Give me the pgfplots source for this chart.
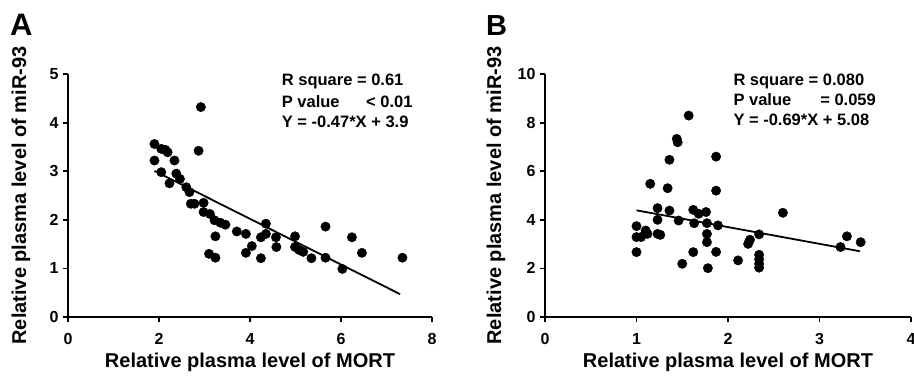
\documentclass[border=0pt]{standalone}
\usepackage{pgfplots}
\pgfplotsset{compat=1.18}
\usepackage{fontspec}
\setmainfont{Liberation Sans}
\begin{document}
\begin{tikzpicture}
\pgfplotsset{
  myax/.style={
    scale only axis, axis lines*=left, axis line style={line width=2pt, -},
    tick align=outside, major tick length=5pt, tick style={line width=1.8pt, black},
    /pgf/number format/assume math mode=true,
    ticklabel style={font=\fontsize{16}{18}\selectfont\bfseries},
    xticklabel style={yshift=-8pt},
    yticklabel style={xshift=-1pt},
    clip=false, height=243pt, anchor=south west,
  },
  dots/.style={only marks, mark=*, mark size=4.7pt, black, mark options={fill=black, draw=black}},
  fit/.style={no marks, black, line width=1.8pt},
}
% Panel A
\begin{axis}[myax, at={(68pt,59pt)}, width=364pt,
  xmin=0, xmax=8, ymin=0, ymax=5, xtick={0,2,...,8}, ytick={0,...,5},
  xlabel={Relative plasma level of MORT},
  ylabel={Relative plasma level of miR-93},
  every axis x label/.style={at={(axis description cs:0.5,-0.206)}, anchor=base, font=\fontsize{20}{24}\selectfont\bfseries},
  every axis y label/.style={at={(axis description cs:-0.129,0.5)}, rotate=90, anchor=center, font=\fontsize{20}{24}\selectfont\bfseries},
]
\addplot[dots] coordinates {
(1.90,3.56) (2.05,3.46) (2.14,3.44) (2.19,3.39) (1.90,3.22) (2.05,2.98)
(2.34,3.22) (2.23,2.75) (2.38,2.95) (2.46,2.84) (2.60,2.67) (2.67,2.57)
(2.70,2.33) (2.78,2.33) (2.92,4.32) (2.87,3.42) (2.98,2.35) (2.98,2.16)
(3.12,2.12) (3.22,1.99) (3.35,1.94) (3.46,1.90) (3.24,1.66) (3.10,1.30)
(3.24,1.22) (3.71,1.76) (3.91,1.71) (4.04,1.46) (3.91,1.32) (4.35,1.92)
(4.24,1.64) (4.35,1.71) (4.57,1.64) (4.58,1.44) (4.24,1.21) (4.99,1.66)
(4.99,1.44) (5.08,1.38) (5.17,1.34) (5.35,1.21) (5.66,1.86) (5.66,1.22)
(6.03,0.99) (6.24,1.64) (6.46,1.32) (7.35,1.22)
};
\addplot[fit] coordinates {(1.9,3.007) (7.3,0.469)};
\end{axis}
% Panel B
\begin{axis}[myax, at={(545pt,59pt)}, width=366pt,
  xmin=0, xmax=4, ymin=0, ymax=10, xtick={0,...,4}, ytick={0,2,...,10},
  xlabel={Relative plasma level of MORT},
  ylabel={Relative plasma level of miR-93},
  every axis x label/.style={at={(axis description cs:0.5,-0.206)}, anchor=base, font=\fontsize{20}{24}\selectfont\bfseries},
  every axis y label/.style={at={(axis description cs:-0.134,0.5)}, rotate=90, anchor=center, font=\fontsize{20}{24}\selectfont\bfseries},
]
\addplot[dots] coordinates {
(1.00,3.74) (1.00,3.29) (1.00,2.67) (1.05,3.29) (1.10,3.56) (1.12,3.42)
(1.15,5.48) (1.23,4.48) (1.23,4.00) (1.23,3.42) (1.26,3.38) (1.34,5.30)
(1.36,6.47) (1.36,4.38) (1.44,7.33) (1.45,7.19) (1.46,3.97) (1.50,2.19)
(1.57,8.29) (1.62,4.41) (1.63,3.86) (1.62,2.67) (1.68,4.25) (1.76,4.32)
(1.77,3.86) (1.77,3.42) (1.77,3.08) (1.78,2.01) (1.87,6.60) (1.87,5.20)
(1.89,3.77) (1.87,2.68) (2.11,2.33) (2.22,3.01) (2.24,3.18) (2.34,3.40)
(2.34,2.56) (2.34,2.37) (2.34,2.19) (2.34,2.03) (2.60,4.29) (3.23,2.88)
(3.30,3.32) (3.45,3.08)
};
\addplot[fit] coordinates {(1.0,4.39) (3.44,2.707)};
\end{axis}
% panel letters
\node[anchor=base west, inner sep=0, font=\fontsize{31}{34}\selectfont\bfseries] at (10pt,341pt) {A};
\node[anchor=base west, inner sep=0, font=\fontsize{29}{34}\selectfont\bfseries] at (486pt,341pt) {B};
% statistics
\begin{scope}[every node/.style={anchor=base west, inner sep=0, font=\fontsize{16.5}{20}\selectfont\bfseries}]
\node at (281.7pt,290.7pt) {R square = 0.61};
\node at (281.7pt,269.0pt) {P value};
\node[anchor=base east] at (412.7pt,269.0pt) {< 0.01};
\node at (281.7pt,249.0pt) {Y = -0.47*X + 3.9};
\node at (733.3pt,291.0pt) {R square = 0.080};
\node at (733.3pt,271.0pt) {P value};
\node[anchor=base east] at (876pt,271.0pt) {= 0.059};
\node at (733.3pt,251.0pt) {Y = -0.69*X + 5.08};
\end{scope}
\pgfresetboundingbox
\useasboundingbox (0pt,0pt) rectangle (914pt,376pt);
\end{tikzpicture}
\end{document}
